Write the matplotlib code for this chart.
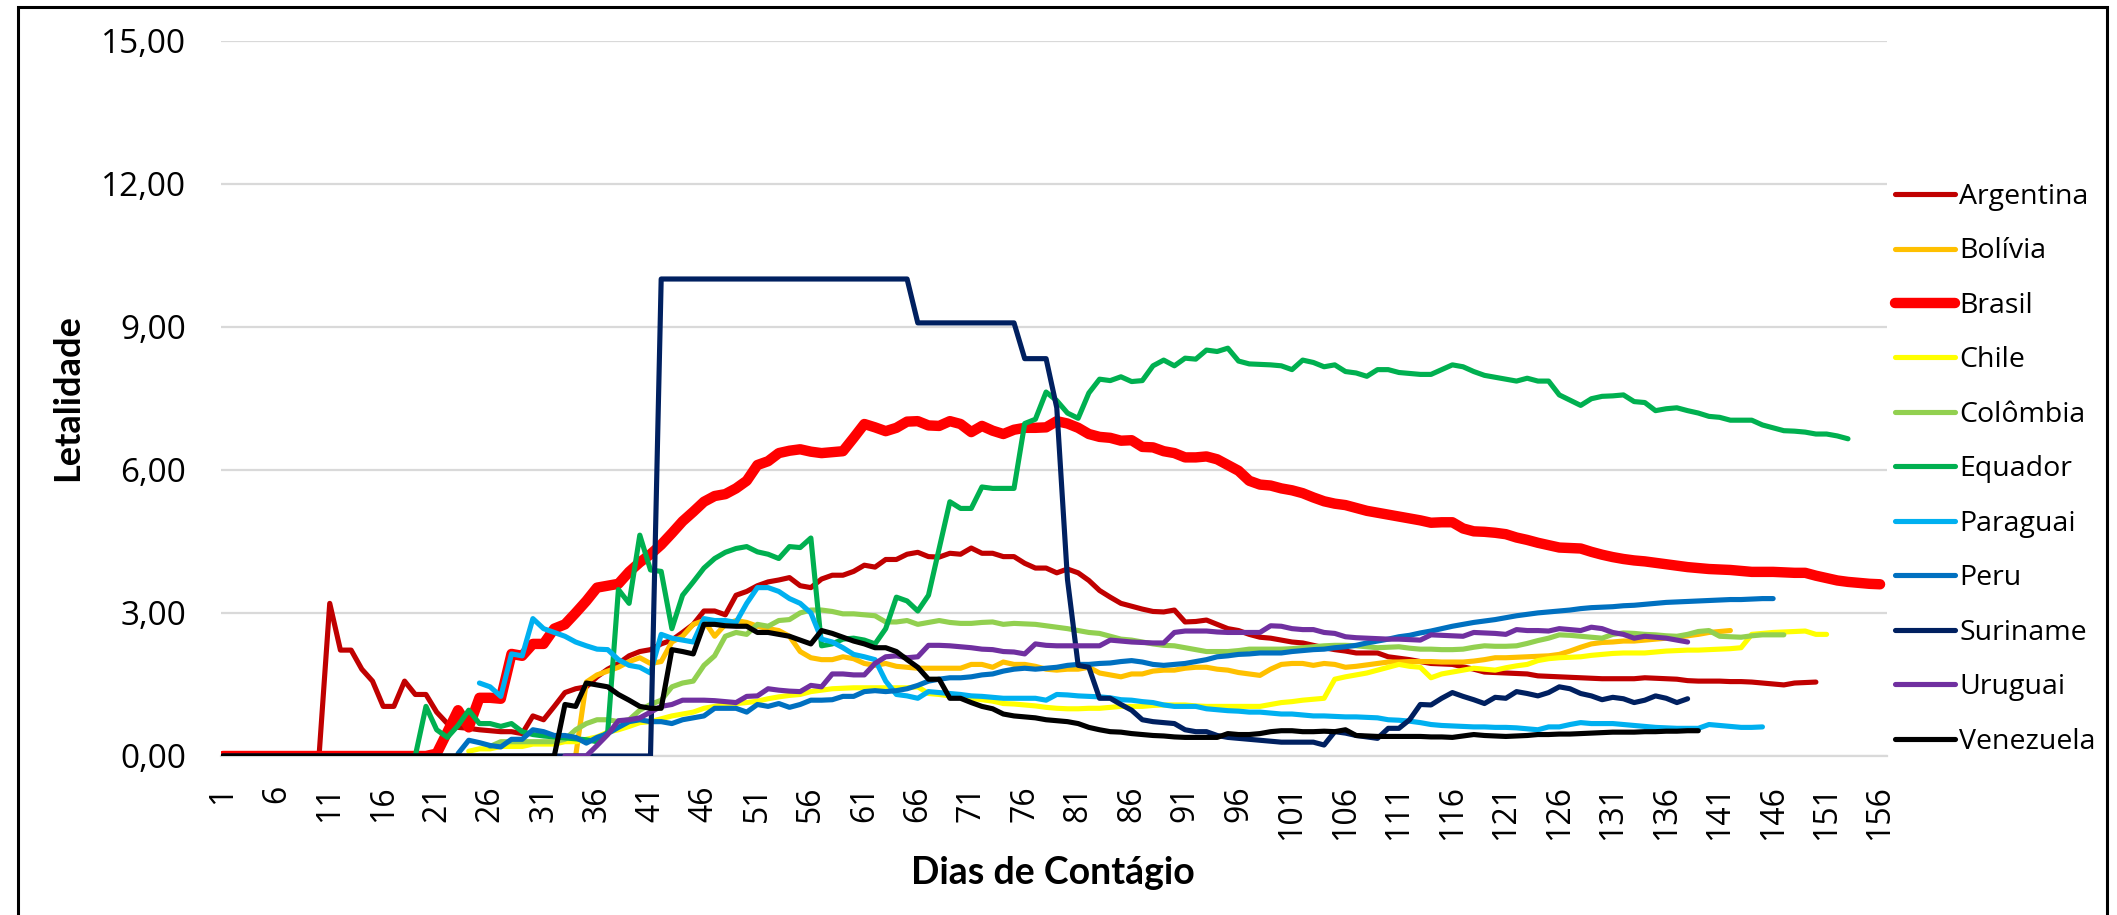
import numpy as np
import matplotlib
matplotlib.use("Agg")
import matplotlib.pyplot as plt
from matplotlib.patches import Rectangle

# series: first day + daily values (letalidade, %)
countries = ['Argentina', 'Bolívia', 'Brasil', 'Chile', 'Colômbia', 'Equador',
             'Paraguai', 'Peru', 'Suriname', 'Uruguai', 'Venezuela']
colors = ['#C00000', '#FFC000', '#FF0000', '#FFFF00', '#92D050', '#00B050',
          '#00B0F0', '#0070C0', '#002060', '#7030A0', '#000000']

argentina_start = 1
argentina = [0, 0, 0, 0, 0, 0, 0, 0, 0, 0,
             3.2, 2.22, 2.22, 1.82, 1.57, 1.04, 1.04, 1.57, 1.29, 1.29,
             0.92, 0.68, 0.6, 0.58, 0.55, 0.53, 0.51, 0.51, 0.47, 0.84,
             0.76, 1.04, 1.33, 1.41, 1.45, 1.66, 1.82, 1.94, 2.1, 2.19,
             2.23, 2.35, 2.43, 2.59, 2.76, 3.04, 3.04, 2.96, 3.37, 3.45,
             3.57, 3.65, 3.69, 3.74, 3.57, 3.53, 3.71, 3.79, 3.79, 3.87,
             4.0, 3.96, 4.12, 4.12, 4.23, 4.27, 4.18, 4.17, 4.25, 4.23,
             4.36, 4.25, 4.25, 4.18, 4.18, 4.04, 3.94, 3.94, 3.84, 3.92,
             3.84, 3.68, 3.47, 3.33, 3.2, 3.14, 3.08, 3.03, 3.02, 3.06,
             2.81, 2.82, 2.85, 2.76, 2.67, 2.63, 2.55, 2.49, 2.47, 2.43,
             2.39, 2.37, 2.32, 2.27, 2.23, 2.2, 2.16, 2.16, 2.16, 2.08,
             2.05, 2.02, 1.98, 1.94, 1.93, 1.92, 1.87, 1.82, 1.76, 1.75,
             1.74, 1.73, 1.72, 1.68, 1.67, 1.66, 1.65, 1.64, 1.63, 1.62,
             1.62, 1.62, 1.62, 1.64, 1.63, 1.62, 1.61, 1.58, 1.57, 1.57,
             1.57, 1.56, 1.56, 1.55, 1.53, 1.51, 1.49, 1.53, 1.54, 1.55]

bolivia_start = 34
bolivia = [0, 1.55, 1.7, 1.78, 1.86, 1.98, 2.06, 1.94, 1.98, 2.39,
           2.51, 2.76, 2.84, 2.51, 2.76, 2.84, 2.8, 2.72, 2.67, 2.63,
           2.51, 2.19, 2.06, 2.02, 2.02, 2.08, 2.04, 1.94, 1.9, 1.94,
           1.88, 1.86, 1.84, 1.84, 1.84, 1.84, 1.84, 1.92, 1.92, 1.86,
           1.97, 1.92, 1.92, 1.88, 1.82, 1.8, 1.82, 1.82, 1.86, 1.74,
           1.7, 1.66, 1.72, 1.72, 1.78, 1.8, 1.8, 1.84, 1.86, 1.86,
           1.82, 1.8, 1.75, 1.72, 1.69, 1.82, 1.92, 1.94, 1.94, 1.9,
           1.94, 1.92, 1.86, 1.88, 1.91, 1.94, 1.97, 1.97, 1.98, 1.98,
           1.98, 1.97, 1.97, 1.97, 1.99, 2.02, 2.06, 2.06, 2.07, 2.08,
           2.09, 2.1, 2.13, 2.2, 2.28, 2.35, 2.38, 2.39, 2.41, 2.41,
           2.43, 2.45, 2.47, 2.49, 2.52, 2.55, 2.59, 2.61, 2.63]

brasil_start = 1
brasil = [0, 0, 0, 0, 0, 0, 0, 0, 0, 0,
          0, 0, 0, 0, 0, 0, 0, 0, 0, 0,
          0.05, 0.5, 0.96, 0.6, 1.22, 1.22, 1.2, 2.14, 2.1, 2.35,
          2.35, 2.67, 2.76, 3.0, 3.25, 3.53, 3.57, 3.61, 3.86, 4.06,
          4.23, 4.43, 4.67, 4.92, 5.12, 5.33, 5.45, 5.49, 5.61, 5.77,
          6.1, 6.18, 6.35, 6.4, 6.43, 6.38, 6.35, 6.37, 6.39, 6.67,
          6.96, 6.89, 6.81, 6.88, 7.01, 7.02, 6.93, 6.92, 7.02, 6.96,
          6.79, 6.92, 6.82, 6.75, 6.84, 6.88, 6.88, 6.89, 7.02, 6.97,
          6.88, 6.75, 6.69, 6.67, 6.61, 6.62, 6.48, 6.47, 6.39, 6.35,
          6.26, 6.26, 6.28, 6.22, 6.1, 5.98, 5.77, 5.69, 5.67, 5.61,
          5.57, 5.51, 5.42, 5.34, 5.29, 5.26, 5.2, 5.14, 5.1, 5.06,
          5.02, 4.98, 4.94, 4.89, 4.9, 4.9, 4.77, 4.71, 4.7, 4.68,
          4.65, 4.58, 4.53, 4.47, 4.42, 4.37, 4.36, 4.35, 4.28, 4.22,
          4.17, 4.13, 4.1, 4.08, 4.05, 4.02, 3.99, 3.96, 3.94, 3.92,
          3.91, 3.9, 3.88, 3.86, 3.86, 3.86, 3.85, 3.84, 3.84, 3.78,
          3.73, 3.68, 3.65, 3.63, 3.61, 3.6]

chile_start = 24
chile = [0.1, 0.15, 0.15, 0.2, 0.2, 0.2, 0.25, 0.25, 0.25, 0.3,
         0.3, 0.35, 0.4, 0.5, 0.55, 0.62, 0.7, 0.72, 0.78, 0.84,
         0.88, 0.92, 1.0, 1.04, 1.08, 1.1, 1.12, 1.15, 1.2, 1.24,
         1.27, 1.29, 1.35, 1.38, 1.41, 1.42, 1.43, 1.43, 1.43, 1.43,
         1.43, 1.43, 1.45, 1.31, 1.29, 1.26, 1.24, 1.21, 1.18, 1.15,
         1.1, 1.09, 1.07, 1.05, 1.02, 1.0, 0.99, 0.99, 1.0, 1.0,
         1.02, 1.04, 1.04, 1.04, 1.06, 1.07, 1.07, 1.07, 1.05, 1.04,
         1.04, 1.04, 1.04, 1.04, 1.04, 1.08, 1.12, 1.14, 1.17, 1.19,
         1.21, 1.61, 1.66, 1.7, 1.74, 1.8, 1.86, 1.92, 1.88, 1.86,
         1.64, 1.72, 1.76, 1.8, 1.84, 1.82, 1.8, 1.85, 1.89, 1.92,
         2.0, 2.04, 2.06, 2.07, 2.08, 2.11, 2.13, 2.15, 2.16, 2.16,
         2.16, 2.18, 2.2, 2.21, 2.22, 2.22, 2.23, 2.24, 2.25, 2.27,
         2.55, 2.57, 2.59, 2.6, 2.61, 2.62, 2.55, 2.55]

colombia_start = 26
colombia = [0.2, 0.3, 0.3, 0.3, 0.3, 0.3, 0.3, 0.35, 0.55, 0.68,
            0.76, 0.76, 0.72, 0.76, 0.96, 1.08, 1.17, 1.45, 1.53, 1.57,
            1.9, 2.1, 2.51, 2.59, 2.55, 2.76, 2.72, 2.84, 2.86, 3.0,
            3.06, 3.06, 3.03, 2.98, 2.98, 2.96, 2.94, 2.81, 2.81, 2.84,
            2.76, 2.8, 2.84, 2.8, 2.78, 2.78, 2.8, 2.81, 2.76, 2.78,
            2.77, 2.76, 2.73, 2.7, 2.67, 2.63, 2.59, 2.57, 2.51, 2.45,
            2.43, 2.39, 2.35, 2.32, 2.31, 2.27, 2.23, 2.19, 2.19, 2.19,
            2.21, 2.24, 2.24, 2.24, 2.24, 2.25, 2.27, 2.29, 2.31, 2.32,
            2.32, 2.31, 2.29, 2.27, 2.28, 2.29, 2.26, 2.24, 2.24, 2.23,
            2.23, 2.24, 2.28, 2.31, 2.3, 2.3, 2.31, 2.36, 2.42, 2.47,
            2.54, 2.53, 2.51, 2.49, 2.47, 2.55, 2.58, 2.57, 2.55, 2.54,
            2.52, 2.51, 2.55, 2.61, 2.63, 2.51, 2.5, 2.49, 2.52, 2.54,
            2.54, 2.54]

equador_start = 19
equador = [0, 1.04, 0.55, 0.39, 0.64, 0.96, 0.68, 0.68, 0.62, 0.68,
           0.51, 0.45, 0.42, 0.4, 0.38, 0.36, 0.34, 0.3, 0.5, 3.49,
           3.2, 4.63, 3.9, 3.87, 2.67, 3.37, 3.65, 3.94, 4.14, 4.27,
           4.35, 4.39, 4.28, 4.23, 4.14, 4.39, 4.37, 4.57, 2.31, 2.35,
           2.45, 2.47, 2.43, 2.35, 2.67, 3.33, 3.25, 3.04, 3.37, 4.35,
           5.33, 5.19, 5.19, 5.64, 5.61, 5.61, 5.61, 6.97, 7.06, 7.63,
           7.45, 7.19, 7.08, 7.61, 7.9, 7.87, 7.95, 7.85, 7.87, 8.18,
           8.3, 8.18, 8.34, 8.32, 8.51, 8.48, 8.55, 8.28, 8.22, 8.21,
           8.2, 8.18, 8.1, 8.3, 8.25, 8.16, 8.2, 8.06, 8.03, 7.96,
           8.1, 8.1, 8.04, 8.02, 8.0, 8.0, 8.1, 8.2, 8.16, 8.06,
           7.98, 7.94, 7.9, 7.86, 7.92, 7.86, 7.86, 7.57, 7.46, 7.35,
           7.49, 7.54, 7.55, 7.57, 7.43, 7.41, 7.24, 7.28, 7.3, 7.24,
           7.19, 7.12, 7.1, 7.04, 7.04, 7.04, 6.94, 6.88, 6.82, 6.81,
           6.79, 6.75, 6.75, 6.71, 6.65]

paraguai_start = 25
paraguai = [1.53, 1.45, 1.25, 2.14, 2.1, 2.88, 2.67, 2.59, 2.51, 2.39,
            2.31, 2.24, 2.23, 2.02, 1.9, 1.86, 1.74, 2.55, 2.47, 2.43,
            2.39, 2.88, 2.84, 2.84, 2.8, 3.2, 3.53, 3.53, 3.45, 3.3,
            3.2, 3.0, 2.45, 2.39, 2.27, 2.13, 2.08, 2.02, 1.57, 1.29,
            1.26, 1.21, 1.35, 1.33, 1.31, 1.29, 1.26, 1.25, 1.23, 1.21,
            1.21, 1.21, 1.21, 1.17, 1.29, 1.28, 1.26, 1.25, 1.24, 1.22,
            1.18, 1.17, 1.14, 1.12, 1.07, 1.04, 1.04, 1.04, 0.99, 0.97,
            0.95, 0.94, 0.92, 0.92, 0.9, 0.88, 0.88, 0.86, 0.84, 0.84,
            0.83, 0.82, 0.82, 0.81, 0.8, 0.76, 0.75, 0.73, 0.7, 0.66,
            0.64, 0.63, 0.62, 0.61, 0.61, 0.6, 0.6, 0.59, 0.57, 0.55,
            0.61, 0.61, 0.66, 0.7, 0.68, 0.68, 0.68, 0.66, 0.64, 0.62,
            0.6, 0.59, 0.58, 0.58, 0.58, 0.66, 0.64, 0.62, 0.6, 0.6,
            0.61]

peru_start = 23
peru = [0.05, 0.33, 0.28, 0.22, 0.19, 0.35, 0.35, 0.55, 0.51, 0.43,
        0.43, 0.39, 0.27, 0.39, 0.47, 0.6, 0.72, 0.76, 0.72, 0.72,
        0.68, 0.76, 0.8, 0.84, 1.0, 1.0, 1.0, 0.92, 1.08, 1.04,
        1.1, 1.02, 1.08, 1.17, 1.17, 1.18, 1.25, 1.25, 1.35, 1.37,
        1.35, 1.37, 1.41, 1.48, 1.57, 1.61, 1.64, 1.64, 1.66, 1.7,
        1.72, 1.78, 1.82, 1.84, 1.82, 1.84, 1.86, 1.9, 1.92, 1.92,
        1.94, 1.95, 1.98, 2.0, 1.97, 1.92, 1.9, 1.92, 1.94, 1.98,
        2.02, 2.08, 2.1, 2.13, 2.14, 2.16, 2.16, 2.16, 2.19, 2.21,
        2.23, 2.24, 2.27, 2.29, 2.32, 2.37, 2.41, 2.45, 2.5, 2.53,
        2.58, 2.62, 2.67, 2.72, 2.76, 2.8, 2.83, 2.86, 2.9, 2.94,
        2.97, 3.0, 3.02, 3.04, 3.06, 3.09, 3.11, 3.12, 3.13, 3.15,
        3.16, 3.18, 3.2, 3.22, 3.23, 3.24, 3.25, 3.26, 3.27, 3.28,
        3.28, 3.29, 3.3, 3.3]

suriname_start = 1
suriname = [0, 0, 0, 0, 0, 0, 0, 0, 0, 0,
            0, 0, 0, 0, 0, 0, 0, 0, 0, 0,
            0, 0, 0, 0, 0, 0, 0, 0, 0, 0,
            0, 0, 0, 0, 0, 0, 0, 0, 0, 0,
            0, 10.0, 10.0, 10.0, 10.0, 10.0, 10.0, 10.0, 10.0, 10.0,
            10.0, 10.0, 10.0, 10.0, 10.0, 10.0, 10.0, 10.0, 10.0, 10.0,
            10.0, 10.0, 10.0, 10.0, 10.0, 9.08, 9.08, 9.08, 9.08, 9.08,
            9.08, 9.08, 9.08, 9.08, 9.08, 8.33, 8.33, 8.33, 7.3, 3.7,
            1.9, 1.86, 1.21, 1.21, 1.08, 0.96, 0.76, 0.72, 0.7, 0.68,
            0.55, 0.51, 0.51, 0.43, 0.39, 0.37, 0.35, 0.33, 0.31, 0.29,
            0.29, 0.29, 0.29, 0.23, 0.51, 0.48, 0.43, 0.4, 0.37, 0.58,
            0.58, 0.76, 1.08, 1.07, 1.21, 1.33, 1.25, 1.18, 1.1, 1.23,
            1.21, 1.35, 1.31, 1.26, 1.33, 1.45, 1.41, 1.31, 1.26, 1.18,
            1.23, 1.2, 1.12, 1.17, 1.26, 1.21, 1.12, 1.2]

uruguai_start = 33
uruguai = [0, 0, 0, 0.22, 0.45, 0.74, 0.76, 0.8, 0.92, 1.04,
           1.08, 1.17, 1.17, 1.17, 1.16, 1.14, 1.12, 1.25, 1.26, 1.41,
           1.38, 1.36, 1.35, 1.48, 1.45, 1.72, 1.72, 1.7, 1.7, 1.94,
           2.08, 2.1, 2.06, 2.08, 2.32, 2.32, 2.31, 2.29, 2.27, 2.24,
           2.23, 2.19, 2.18, 2.14, 2.35, 2.32, 2.31, 2.31, 2.31, 2.31,
           2.31, 2.43, 2.41, 2.39, 2.38, 2.37, 2.37, 2.59, 2.62, 2.62,
           2.62, 2.6, 2.59, 2.59, 2.59, 2.59, 2.73, 2.72, 2.67, 2.65,
           2.65, 2.59, 2.57, 2.5, 2.48, 2.47, 2.46, 2.45, 2.45, 2.44,
           2.43, 2.54, 2.53, 2.52, 2.51, 2.59, 2.58, 2.57, 2.55, 2.65,
           2.63, 2.63, 2.62, 2.67, 2.65, 2.63, 2.7, 2.67, 2.59, 2.55,
           2.47, 2.51, 2.49, 2.47, 2.43, 2.39]

venezuela_start = 1
venezuela = [0, 0, 0, 0, 0, 0, 0, 0, 0, 0,
             0, 0, 0, 0, 0, 0, 0, 0, 0, 0,
             0, 0, 0, 0, 0, 0, 0, 0, 0, 0,
             0, 0, 1.08, 1.04, 1.53, 1.49, 1.45, 1.29, 1.17, 1.04,
             1.0, 1.0, 2.23, 2.19, 2.14, 2.76, 2.76, 2.73, 2.72, 2.72,
             2.59, 2.59, 2.55, 2.51, 2.43, 2.35, 2.63, 2.57, 2.49, 2.41,
             2.35, 2.27, 2.27, 2.19, 2.02, 1.86, 1.61, 1.61, 1.21, 1.21,
             1.12, 1.04, 0.99, 0.88, 0.84, 0.82, 0.8, 0.76, 0.74, 0.72,
             0.68, 0.6, 0.55, 0.51, 0.5, 0.47, 0.45, 0.43, 0.42, 0.4,
             0.39, 0.39, 0.39, 0.39, 0.47, 0.45, 0.45, 0.47, 0.51, 0.53,
             0.53, 0.51, 0.51, 0.52, 0.51, 0.55, 0.43, 0.42, 0.41, 0.41,
             0.41, 0.41, 0.41, 0.4, 0.4, 0.39, 0.42, 0.45, 0.43, 0.42,
             0.41, 0.42, 0.43, 0.45, 0.45, 0.46, 0.46, 0.47, 0.48, 0.49,
             0.5, 0.5, 0.5, 0.51, 0.51, 0.52, 0.52, 0.53, 0.53]

series = [(argentina_start, argentina), (bolivia_start, bolivia), (brasil_start, brasil),
          (chile_start, chile), (colombia_start, colombia), (equador_start, equador),
          (paraguai_start, paraguai), (peru_start, peru), (suriname_start, suriname),
          (uruguai_start, uruguai), (venezuela_start, venezuela)]

yticks = [0, 3, 6, 9, 12, 15]
xticks = list(range(1, 157, 5))

W, H = 2117, 915
fig = plt.figure(figsize=(W / 100, H / 100), dpi=100)
ax = fig.add_axes([221 / W, 1 - 756 / H, (1887 - 221) / W, (756 - 40.5) / H])

handles = []
for name, col, (start, vals) in zip(countries, colors, series):
    x = np.arange(start, start + len(vals))
    lw = 7.5 if name == 'Brasil' else 3.7
    ln, = ax.plot(x, vals, color=col, lw=lw, solid_capstyle='round',
                  solid_joinstyle='round', label=name)
    handles.append(ln)

ax.set_xlim(0.83, 156.65)
ax.set_ylim(0, 15)
ax.set_yticks(yticks)
ax.set_yticklabels(['%d,00' % v for v in yticks], family='Open Sans', fontsize=24)
ax.set_xticks(xticks)
ax.set_xticklabels([str(v) for v in xticks], rotation=90, family='Open Sans', fontsize=23)
ax.grid(axis='y', color='#D9D9D9', lw=1.6)
ax.set_axisbelow(True)
for s in ['top', 'right', 'left']:
    ax.spines[s].set_visible(False)
ax.spines['bottom'].set_color('#D9D9D9')
ax.spines['bottom'].set_linewidth(1.6)
ax.spines['bottom'].set_zorder(0.5)
ax.tick_params(axis='y', length=0, pad=25)
ax.tick_params(axis='x', length=0, pad=21)

fig.text(68 / W, 1 - 398 / H, 'Letalidade', rotation=90, ha='center', va='center',
         fontsize=26, fontweight='bold', family='Lato')
fig.text(1053 / W, 1 - 873 / H, 'Dias de Contágio', ha='center', va='center',
         fontsize=27, fontweight='bold', family='Lato')

leg = fig.legend(handles=handles, loc='center left', bbox_to_anchor=(1895 / W, 0.487),
                 frameon=False, borderaxespad=0, borderpad=0, handlelength=2.1,
                 handletextpad=0.15, labelspacing=0.93,
                 prop={'family': 'Open Sans', 'size': 20.5})

fig.patches.append(Rectangle((17.5 / W, -0.02), (2107 - 17.5) / W, 0.02 + 1 - 7 / H,
                             transform=fig.transFigure, fill=False, ec='black', lw=2.2))

fig.savefig('out.png', dpi=100)
